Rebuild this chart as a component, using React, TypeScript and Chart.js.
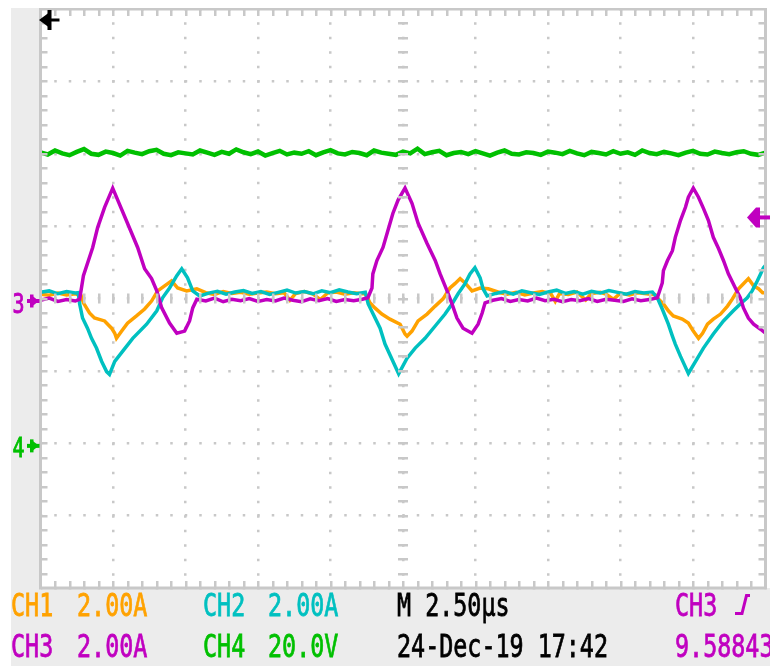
import React, { useEffect, useRef } from "react";
import { Chart, registerables } from "chart.js";

Chart.register(...registerables);

// ---------------- scope settings ----------------
const TIME_MIN_US = 0;
const TIME_MAX_US = 25; // 10 div x 2.50 us
const TIME_PER_DIV_US = 2.5;
const DIV_MIN = -4;
const DIV_MAX = 4;
const CH1_A_PER_DIV = 2;
const CH2_A_PER_DIV = 2;
const CH3_A_PER_DIV = 2;
const CH4_V_PER_DIV = 20;
const CH4_GROUND_DIV = -2.05;
const CH3_TRIGGER_A = 2.24;
const CH4_SAMPLE_US = 0.25;

// ---------------- waveform samples [time us, value] ----------------
const CH3_SAMPLES: number[][] = [
  [0, -0.05], [0.3, 0.01], [0.6, -0.08], [0.9, -0.03], [1.2, -0.07], [1.35, -0.02], [1.48, 0.63], [1.8, 1.41],
  [1.97, 1.96], [2.21, 2.52], [2.49, 3.05], [3.0, 2.08], [3.35, 1.41], [3.59, 0.82], [3.83, 0.55], [4.01, 0.21],
  [4.18, -0.26], [4.45, -0.68], [4.7, -0.96], [4.97, -0.9], [5.14, -0.62], [5.25, -0.26], [5.39, -0.02],
  [5.7, -0.07], [6.0, 0.01], [6.3, -0.09], [6.6, -0.02], [6.9, -0.06], [7.2, 0.0], [7.5, -0.08], [7.8, -0.03],
  [8.1, -0.07], [8.4, 0.01], [8.7, -0.05], [9.0, -0.09], [9.3, -0.01], [9.6, -0.06], [9.9, 0.0], [10.2, -0.08],
  [10.5, -0.03], [10.8, -0.06], [11.1, -0.02],
  [11.29, 0.02], [11.43, 0.29], [11.46, 0.68], [11.6, 1.05], [11.81, 1.41], [11.98, 1.88], [12.15, 2.35],
  [12.33, 2.72], [12.57, 3.05], [12.81, 2.63], [13.02, 2.08], [13.33, 1.52], [13.61, 1.05], [13.78, 0.68],
  [14.02, 0.21], [14.19, -0.15], [14.36, -0.54], [14.57, -0.82], [14.88, -0.96], [15.09, -0.71], [15.23, -0.4],
  [15.33, -0.12],
  [15.6, -0.05], [15.9, 0.0], [16.2, -0.08], [16.5, -0.03], [16.8, -0.07], [17.1, 0.01], [17.4, -0.06],
  [17.7, -0.02], [18.0, -0.09], [18.3, -0.03], [18.6, -0.06], [18.9, 0.0], [19.2, -0.08], [19.5, -0.02],
  [19.8, -0.05], [20.1, -0.08], [20.4, -0.01], [20.7, -0.06], [21.0, -0.03],
  [21.27, 0.02], [21.44, 0.43], [21.48, 0.77], [21.62, 1.05], [21.79, 1.32], [21.89, 1.69], [22.07, 2.16],
  [22.24, 2.52], [22.34, 2.8], [22.51, 3.05], [22.69, 2.8], [22.86, 2.49], [23.03, 2.16], [23.2, 1.69],
  [23.38, 1.38], [23.55, 1.05], [23.72, 0.68], [23.96, 0.29], [24.13, 0.02], [24.24, -0.26], [24.41, -0.54],
  [24.59, -0.71], [24.83, -0.85], [25.0, -0.96],
];

const CH2_SAMPLES: number[][] = [
  [0, 0.17], [0.3, 0.21], [0.6, 0.13], [0.9, 0.19], [1.2, 0.15], [1.3, 0.16], [1.35, -0.15], [1.45, -0.54],
  [1.62, -0.82], [1.76, -1.1], [1.93, -1.37], [2.11, -1.74], [2.28, -2.02], [2.38, -2.1], [2.56, -1.74],
  [2.83, -1.46], [3.18, -1.1], [3.66, -0.71], [4.01, -0.34], [4.21, 0.02], [4.45, 0.29], [4.7, 0.63],
  [4.87, 0.82], [5.07, 0.57], [5.25, 0.21], [5.49, 0.07],
  [5.8, 0.15], [6.1, 0.2], [6.4, 0.12], [6.7, 0.18], [7.0, 0.22], [7.3, 0.14], [7.6, 0.19], [7.9, 0.11],
  [8.2, 0.17], [8.5, 0.23], [8.8, 0.15], [9.1, 0.19], [9.4, 0.13], [9.7, 0.21], [10.0, 0.16], [10.3, 0.24],
  [10.6, 0.18], [10.9, 0.13], [11.2, 0.17],
  [11.3, -0.15], [11.47, -0.43], [11.71, -0.82], [11.88, -1.26], [12.12, -1.68], [12.35, -2.08], [12.64, -1.65],
  [12.92, -1.37], [13.26, -1.1], [13.61, -0.76], [13.95, -0.43], [14.19, -0.15], [14.4, 0.13], [14.64, 0.41],
  [14.81, 0.68], [14.98, 0.85], [15.16, 0.57], [15.26, 0.27], [15.4, 0.07],
  [15.7, 0.14], [16.0, 0.19], [16.3, 0.12], [16.6, 0.21], [16.9, 0.16], [17.2, 0.11], [17.5, 0.18], [17.8, 0.23],
  [18.1, 0.14], [18.4, 0.19], [18.7, 0.12], [19.0, 0.2], [19.3, 0.15], [19.6, 0.22], [19.9, 0.17], [20.2, 0.12],
  [20.5, 0.19], [20.8, 0.15], [21.1, 0.18],
  [21.27, 0.02], [21.44, -0.29], [21.65, -0.71], [21.79, -1.04], [21.89, -1.26], [22.07, -1.6], [22.34, -2.07],
  [22.86, -1.37], [23.2, -0.98], [23.55, -0.62], [23.89, -0.34], [24.13, -0.15], [24.37, 0.02], [24.54, 0.21],
  [24.72, 0.49], [24.83, 0.68], [24.93, 0.85], [25.0, 0.91],
];

const CH1_SAMPLES: number[][] = [
  [0, 0.12], [0.3, 0.09], [0.6, 0.15], [0.9, 0.1], [1.2, 0.13], [1.4, 0.08], [1.48, -0.12], [1.69, -0.4],
  [1.86, -0.54], [2.21, -0.62], [2.45, -0.82], [2.56, -0.96], [2.62, -1.1], [2.8, -0.9], [3.0, -0.68],
  [3.31, -0.48], [3.59, -0.29], [3.83, -0.07], [4.04, 0.21], [4.28, 0.35], [4.52, 0.49], [4.73, 0.29],
  [5.04, 0.21], [5.39, 0.27],
  [5.7, 0.16], [6.0, 0.11], [6.3, 0.19], [6.6, 0.14], [6.9, 0.17], [7.2, 0.12], [7.5, 0.15], [7.8, 0.18],
  [8.1, 0.13], [8.4, 0.16], [8.6, -0.05], [8.8, 0.14], [9.1, 0.19], [9.4, 0.12], [9.65, -0.03], [9.9, 0.15],
  [10.2, 0.18], [10.5, 0.12], [10.8, 0.16], [11.1, 0.13], [11.2, 0.14],
  [11.36, -0.12], [11.53, -0.26], [11.77, -0.43], [12.05, -0.57], [12.4, -0.71], [12.57, -0.98], [12.64, -1.04],
  [12.81, -0.9], [13.02, -0.62], [13.33, -0.43], [13.61, -0.21], [13.88, -0.01], [14.12, 0.29], [14.29, 0.41],
  [14.47, 0.55], [14.64, 0.43], [14.88, 0.21], [15.16, 0.29], [15.44, 0.27], [15.85, 0.16],
  [16.1, 0.12], [16.4, 0.17], [16.7, 0.1], [17.0, 0.15], [17.3, 0.19], [17.6, 0.13], [17.75, -0.08], [17.9, 0.14],
  [18.2, 0.11], [18.5, 0.18], [18.8, -0.04], [19.0, 0.14], [19.3, 0.17], [19.5, 0.12], [19.75, -0.02],
  [20.0, 0.15], [20.3, 0.1], [20.6, 0.16], [20.9, 0.13], [21.2, 0.1],
  [21.3, -0.01], [21.48, -0.15], [21.65, -0.34], [21.82, -0.48], [22.13, -0.57], [22.34, -0.68], [22.51, -0.9],
  [22.69, -1.1], [22.83, -0.96], [23.0, -0.71], [23.2, -0.57], [23.45, -0.43], [23.69, -0.21], [23.86, -0.01],
  [24.07, 0.27], [24.24, 0.41], [24.41, 0.55], [24.59, 0.35], [24.76, 0.27], [24.9, 0.16], [25.0, 0.16],
];

// CH4 volts, one sample every CH4_SAMPLE_US
const CH4_VOLTS: number[] = [
  81.4, 80.8, 81.9, 81.1, 80.6, 81.5, 82.3, 81.0, 80.7, 81.6,
  81.2, 80.5, 81.8, 81.3, 80.9, 81.7, 82.1, 81.0, 80.6, 81.4,
  81.1, 80.8, 81.9, 81.3, 80.7, 81.5, 81.0, 82.2, 81.4, 80.9,
  81.6, 80.5, 81.2, 81.8, 80.8, 81.3, 81.0, 81.7, 80.6, 81.4,
  82.0, 81.1, 80.8, 81.5, 81.2, 80.6, 81.9, 81.3, 81.0, 80.7,
  81.6, 81.1, 82.4, 80.9, 81.4, 81.8, 80.6, 81.2, 81.5, 80.9,
  81.7, 81.1, 80.5, 81.3, 81.9, 81.0, 80.8, 81.4, 81.2, 80.7,
  81.6, 81.3, 80.9, 81.8, 81.1, 80.6, 81.5, 81.2, 80.8, 81.7,
  81.0, 81.4, 80.7, 81.9, 81.2, 80.9, 81.5, 81.1, 80.6, 81.3,
  81.8, 81.0, 80.8, 81.6, 81.2, 80.9, 81.4, 81.7, 81.0, 80.7,
  81.3,
];

// ---------------- readout text ----------------
const CH1_LABEL = "CH1";
const CH1_SCALE = "2.00A";
const CH2_LABEL = "CH2";
const CH2_SCALE = "2.00A";
const CH3_LABEL = "CH3";
const CH3_SCALE = "2.00A";
const CH4_LABEL = "CH4";
const CH4_SCALE = "20.0V";
const TIMEBASE = "M 2.50µs";
const DATE_TIME = "24-Dec-19 17:42";
const TRIGGER_SOURCE = "CH3";
const TRIGGER_FREQ = "9.58843";

// ---------------- colours ----------------
const ORANGE = "#ffa200";
const CYAN = "#00c0c0";
const MAGENTA = "#c000c0";
const GREEN = "#00c000";
const GRID = "#c8c8c8";
const PANEL = "#ececec";

const scopePlugin = {
  id: "scopeDecor",
  beforeDraw(chart: any) {
    const { ctx, chartArea: a, width, height } = chart;
    ctx.save();
    ctx.fillStyle = PANEL;
    ctx.fillRect(0, 0, width, height);
    ctx.fillStyle = "#ffffff";
    ctx.fillRect(a.left, 0, width - a.left, a.bottom);
    ctx.restore();
  },
  afterDraw(chart: any) {
    const { ctx, chartArea: a, scales } = chart;
    const xs = scales.x;
    const ys = scales.y;
    ctx.save();
    // border
    ctx.strokeStyle = GRID;
    ctx.lineWidth = 3;
    ctx.strokeRect(a.left, a.top, a.right - a.left, a.bottom - a.top);
    // minor ticks on border and centre cross
    const xc = xs.getPixelForValue((TIME_MIN_US + TIME_MAX_US) / 2);
    const yc = ys.getPixelForValue(0);
    ctx.lineWidth = 2.5;
    ctx.beginPath();
    for (let k = 1; k < 50; k++) {
      const px = Math.round(xs.getPixelForValue(TIME_MIN_US + (k * TIME_PER_DIV_US) / 5)) + 0.25;
      ctx.moveTo(px, a.top);
      ctx.lineTo(px, a.top + 7);
      ctx.moveTo(px, a.bottom);
      ctx.lineTo(px, a.bottom - 7);
      ctx.moveTo(px, yc - 5);
      ctx.lineTo(px, yc + 5);
    }
    for (let k = 1; k < 40; k++) {
      const py = Math.round(ys.getPixelForValue(DIV_MIN + k * 0.2)) + 0.25;
      ctx.moveTo(a.left, py);
      ctx.lineTo(a.left + 7, py);
      ctx.moveTo(a.right, py);
      ctx.lineTo(a.right - 7, py);
      ctx.moveTo(xc - 5, py);
      ctx.lineTo(xc + 5, py);
    }
    ctx.stroke();

    // trigger position marker (top-left, black)
    ctx.fillStyle = "#000000";
    const tx = a.left;
    const ty = a.top + 11;
    ctx.fillRect(tx + 7, a.top + 1, 4, 20);
    ctx.fillRect(tx + 9, ty - 1.5, 10, 3);
    ctx.beginPath();
    ctx.moveTo(tx - 1.5, ty);
    ctx.lineTo(tx + 8, ty - 7);
    ctx.lineTo(tx + 8, ty + 7);
    ctx.closePath();
    ctx.fill();

    // trigger level marker (right, magenta)
    const ly = ys.getPixelForValue(CH3_TRIGGER_A / CH3_A_PER_DIV);
    const lx = a.right - 18.5;
    ctx.fillStyle = MAGENTA;
    ctx.beginPath();
    ctx.moveTo(lx, ly);
    ctx.lineTo(lx + 9, ly - 10);
    ctx.lineTo(lx + 13, ly - 10);
    ctx.lineTo(lx + 13, ly + 10);
    ctx.lineTo(lx + 9, ly + 10);
    ctx.closePath();
    ctx.fill();
    ctx.fillRect(lx + 8, ly - 2, 21, 4);

    // ground markers
    const drawGround = (label: string, g: number, color: string, textDy: number, arrowDy: number) => {
      ctx.fillStyle = color;
      const gy = g + arrowDy;
      ctx.fillRect(a.left - 13.5, gy - 2, 12.5, 4);
      ctx.fillRect(a.left - 10.5, gy - 6.5, 3.5, 13);
      ctx.beginPath();
      ctx.moveTo(a.left - 8, gy - 5);
      ctx.lineTo(a.left - 1.5, gy);
      ctx.lineTo(a.left - 8, gy + 5);
      ctx.closePath();
      ctx.fill();
      ctx.save();
      ctx.translate(1.5, g + textDy);
      ctx.scale(0.74, 1);
      ctx.font = '27px "DejaVu Sans Mono"';
      ctx.strokeStyle = color;
      ctx.lineWidth = 0.9;
      ctx.textBaseline = "alphabetic";
      ctx.fillText(label, 0, 0);
      ctx.strokeText(label, 0, 0);
      ctx.restore();
    };
    drawGround("3", ys.getPixelForValue(0), MAGENTA, 14, 2.5);
    drawGround("4", ys.getPixelForValue(CH4_GROUND_DIV), GREEN, 10, -1);

    // trigger slope symbol next to the trigger source readout
    ctx.strokeStyle = MAGENTA;
    ctx.lineWidth = 3;
    ctx.beginPath();
    ctx.moveTo(724, 605.5);
    ctx.lineTo(731, 605.5);
    ctx.lineTo(735.5, 587.5);
    ctx.lineTo(739, 587.5);
    ctx.stroke();
    ctx.restore();
  },
};

const toDiv = (samples: number[][], perDiv: number) =>
  samples.map(([t, v]) => ({ x: t, y: v / perDiv }));

const ch4Points = CH4_VOLTS.map((v, i) => ({
  x: TIME_MIN_US + i * CH4_SAMPLE_US,
  y: v / CH4_V_PER_DIV + CH4_GROUND_DIV,
}));

function Readout(props: { text: string; color: string; left: number; top: number }) {
  return (
    <span
      style={{
        position: "absolute",
        left: props.left,
        top: props.top,
        color: props.color,
        fontFamily: '"DejaVu Sans Mono", monospace',
        fontSize: 32,
        lineHeight: "32px",
        whiteSpace: "pre",
        WebkitTextStroke: "0.8px " + props.color,
        transform: "scaleX(0.73)",
        transformOrigin: "0 0",
      }}
    >
      {props.text}
    </span>
  );
}

export default function App() {
  const ref = useRef<HTMLCanvasElement>(null);

  useEffect(() => {
    const canvas = ref.current;
    if (!canvas) return;
    const line = (label: string, data: any[], color: string, width: number) => ({
      label,
      data,
      borderColor: color,
      backgroundColor: color,
      borderWidth: width,
      pointRadius: 0,
      tension: 0,
      fill: false,
      borderJoinStyle: "miter",
    });
    const chart = new Chart(canvas, {
      type: "line",
      data: {
        datasets: [
          line(CH3_LABEL, toDiv(CH3_SAMPLES, CH3_A_PER_DIV), MAGENTA, 3.5),
          line(CH2_LABEL, toDiv(CH2_SAMPLES, CH2_A_PER_DIV), CYAN, 3.5),
          line(CH1_LABEL, toDiv(CH1_SAMPLES, CH1_A_PER_DIV), ORANGE, 3.5),
          line(CH4_LABEL, ch4Points, GREEN, 4.5),
        ],
      },
      options: {
        animation: false,
        responsive: false,
        maintainAspectRatio: false,
        events: [],
        layout: { padding: { left: 29.5, right: 4.5, top: 1, bottom: 78 } },
        plugins: { legend: { display: false }, tooltip: { enabled: false } },
        scales: {
          x: {
            type: "linear",
            min: TIME_MIN_US,
            max: TIME_MAX_US,
            z: 1,
            ticks: { display: false, stepSize: TIME_PER_DIV_US },
            grid: { color: GRID, lineWidth: 2.5, drawTicks: false },
            border: { display: false, dash: [2.5, 12], dashOffset: 1.25 },
            afterFit: (s: any) => {
              s.height = 0;
            },
          },
          y: {
            type: "linear",
            min: DIV_MIN,
            max: DIV_MAX,
            z: 1,
            ticks: { display: false, stepSize: 1 },
            grid: { color: GRID, lineWidth: 2.5, drawTicks: false },
            border: { display: false, dash: [2.5, 12], dashOffset: 1.25 },
            afterFit: (s: any) => {
              s.width = 0;
            },
          },
        },
      } as any,
      plugins: [scopePlugin],
    });
    return () => chart.destroy();
  }, []);

  const row1 = 581.3;
  const row2 = 622.3;
  return (
    <div
      style={{
        position: "fixed",
        left: 11,
        top: 8,
        width: 759,
        height: 658,
        overflow: "hidden",
      }}
    >
      <canvas
        ref={ref}
        width={759}
        height={658}
        style={{ display: "block", position: "absolute", left: 0, top: 0, width: 759, height: 658 }}
      />
      <Readout text={CH1_LABEL} color={ORANGE} left={0} top={row1} />
      <Readout text={CH1_SCALE} color={ORANGE} left={66} top={row1} />
      <Readout text={CH2_LABEL} color={CYAN} left={192} top={row1} />
      <Readout text={CH2_SCALE} color={CYAN} left={257} top={row1} />
      <Readout text={TIMEBASE} color="#000000" left={386} top={row1} />
      <Readout text={TRIGGER_SOURCE} color={MAGENTA} left={664} top={row1} />
      <Readout text={CH3_LABEL} color={MAGENTA} left={0} top={row2} />
      <Readout text={CH3_SCALE} color={MAGENTA} left={66} top={row2} />
      <Readout text={CH4_LABEL} color={GREEN} left={192} top={row2} />
      <Readout text={CH4_SCALE} color={GREEN} left={257} top={row2} />
      <Readout text={DATE_TIME} color="#000000" left={386} top={row2} />
      <Readout text={TRIGGER_FREQ} color={MAGENTA} left={664} top={row2} />
    </div>
  );
}
